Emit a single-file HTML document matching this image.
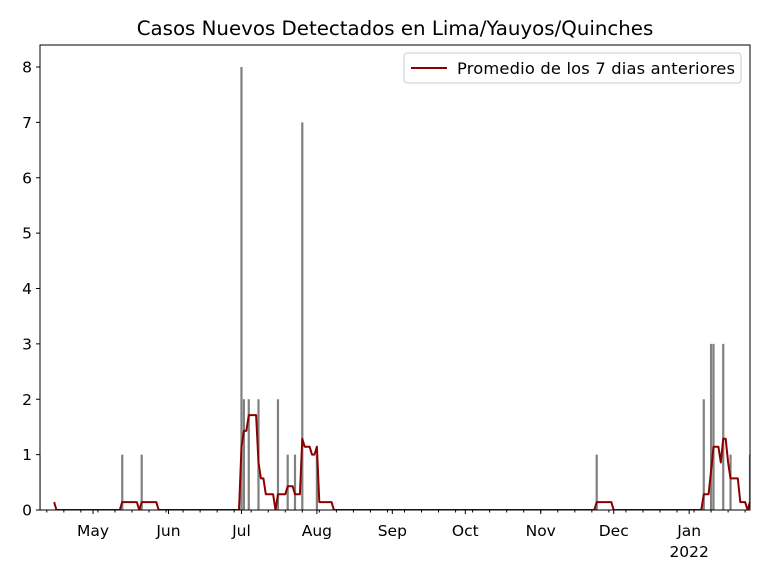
<!DOCTYPE html>
<html><head><meta charset="utf-8"><style>
body{margin:0;background:#fff;font-family:"Liberation Sans","DejaVu Sans",sans-serif}
svg text{font-family:"DejaVu Sans","Liberation Sans",sans-serif}
</style></head><body>
<svg id="c" width="768" height="576" xmlns="http://www.w3.org/2000/svg"></svg>
<script>
const caseDays=[-22,12,20,61,62,64,68,76,80,83,86,92,207,251,254,255,259,262,270];
const caseValues=[1,1,1,8,2,2,2,2,1,1,7,1,1,2,3,3,3,1,1];
const monthLabels=["May","Jun","Jul","Aug","Sep","Oct","Nov","Dec","Jan"];
const monthDays=[0,31,61,92,123,153,184,214,245];
const yTicks=[0,1,2,3,4,5,6,7,8];
const NS="http://www.w3.org/2000/svg";
const svg=document.getElementById('c');
const L=40,R=750,T=45,B=510;
const d0=-21.8,d1=270;
const xs=d=>L+(d-d0)/(d1-d0)*(R-L);
const ys=v=>B-v*(B-67)/8;
function el(t,a,p){const e=document.createElementNS(NS,t);for(const k in a)e.setAttribute(k,a[k]);(p||svg).appendChild(e);return e;}
const defs=el('defs',{});const cp=el('clipPath',{id:'cl'},defs);el('rect',{x:L,y:T,width:R-L,height:B-T},cp);
const g=el('g',{'clip-path':'url(#cl)'});
caseDays.forEach((d,i)=>{const r=el('rect',{x:xs(d)-1.1,y:ys(caseValues[i]),width:2.2,height:B-ys(caseValues[i]),fill:'#808080'},g);

});
const daily={};caseDays.forEach((d,i)=>daily[d]=(daily[d]||0)+caseValues[i]);
let pts=[];
for(let d=-16;d<=270;d++){let s=0;for(let k=d-6;k<=d;k++)s+=daily[k]||0;pts.push(xs(d).toFixed(1)+','+ys(s/7).toFixed(1));}
const ln=el('polyline',{points:pts.join(' '),fill:'none',stroke:'#8b0000','stroke-width':2,'stroke-linejoin':'round'},g);


const fr=el('rect',{x:L,y:T,width:R-L,height:B-T,fill:'none',stroke:'#000','stroke-width':1});


yTicks.forEach(v=>{el('line',{x1:L-4,x2:L,y1:ys(v),y2:ys(v),stroke:'#000'});
const t=el('text',{x:L-8,y:ys(v)+5.5,'text-anchor':'end','font-size':15.5});t.textContent=v;

});
for(let d=-19;d<=270;d+=7){el('line',{x1:xs(d),x2:xs(d),y1:B,y2:B+2.5,stroke:'#000'});}
monthDays.forEach((d,i)=>{el('line',{x1:xs(d),x2:xs(d),y1:B,y2:B+4,stroke:'#000'});
const t=el('text',{x:xs(d),y:B+26,'text-anchor':'middle','font-size':15.5});t.textContent=monthLabels[i];

});
const yr=el('text',{x:xs(245),y:B+47,'text-anchor':'middle','font-size':15.5});yr.textContent='2022';


const ti=el('text',{x:395,y:35,'text-anchor':'middle','font-size':19.8});ti.textContent='Casos Nuevos Detectados en Lima/Yauyos/Quinches';


const lg=el('g',{});


el('rect',{x:404,y:53,width:337,height:30,rx:3,fill:'#fff',stroke:'#ccc'},lg);
el('line',{x1:411,x2:447,y1:68,y2:68,stroke:'#8b0000','stroke-width':2},lg);
const lt=el('text',{x:457,y:74,'font-size':16.3,textLength:278},lg);lt.textContent='Promedio de los 7 dias anteriores';


</script>
</body></html>
